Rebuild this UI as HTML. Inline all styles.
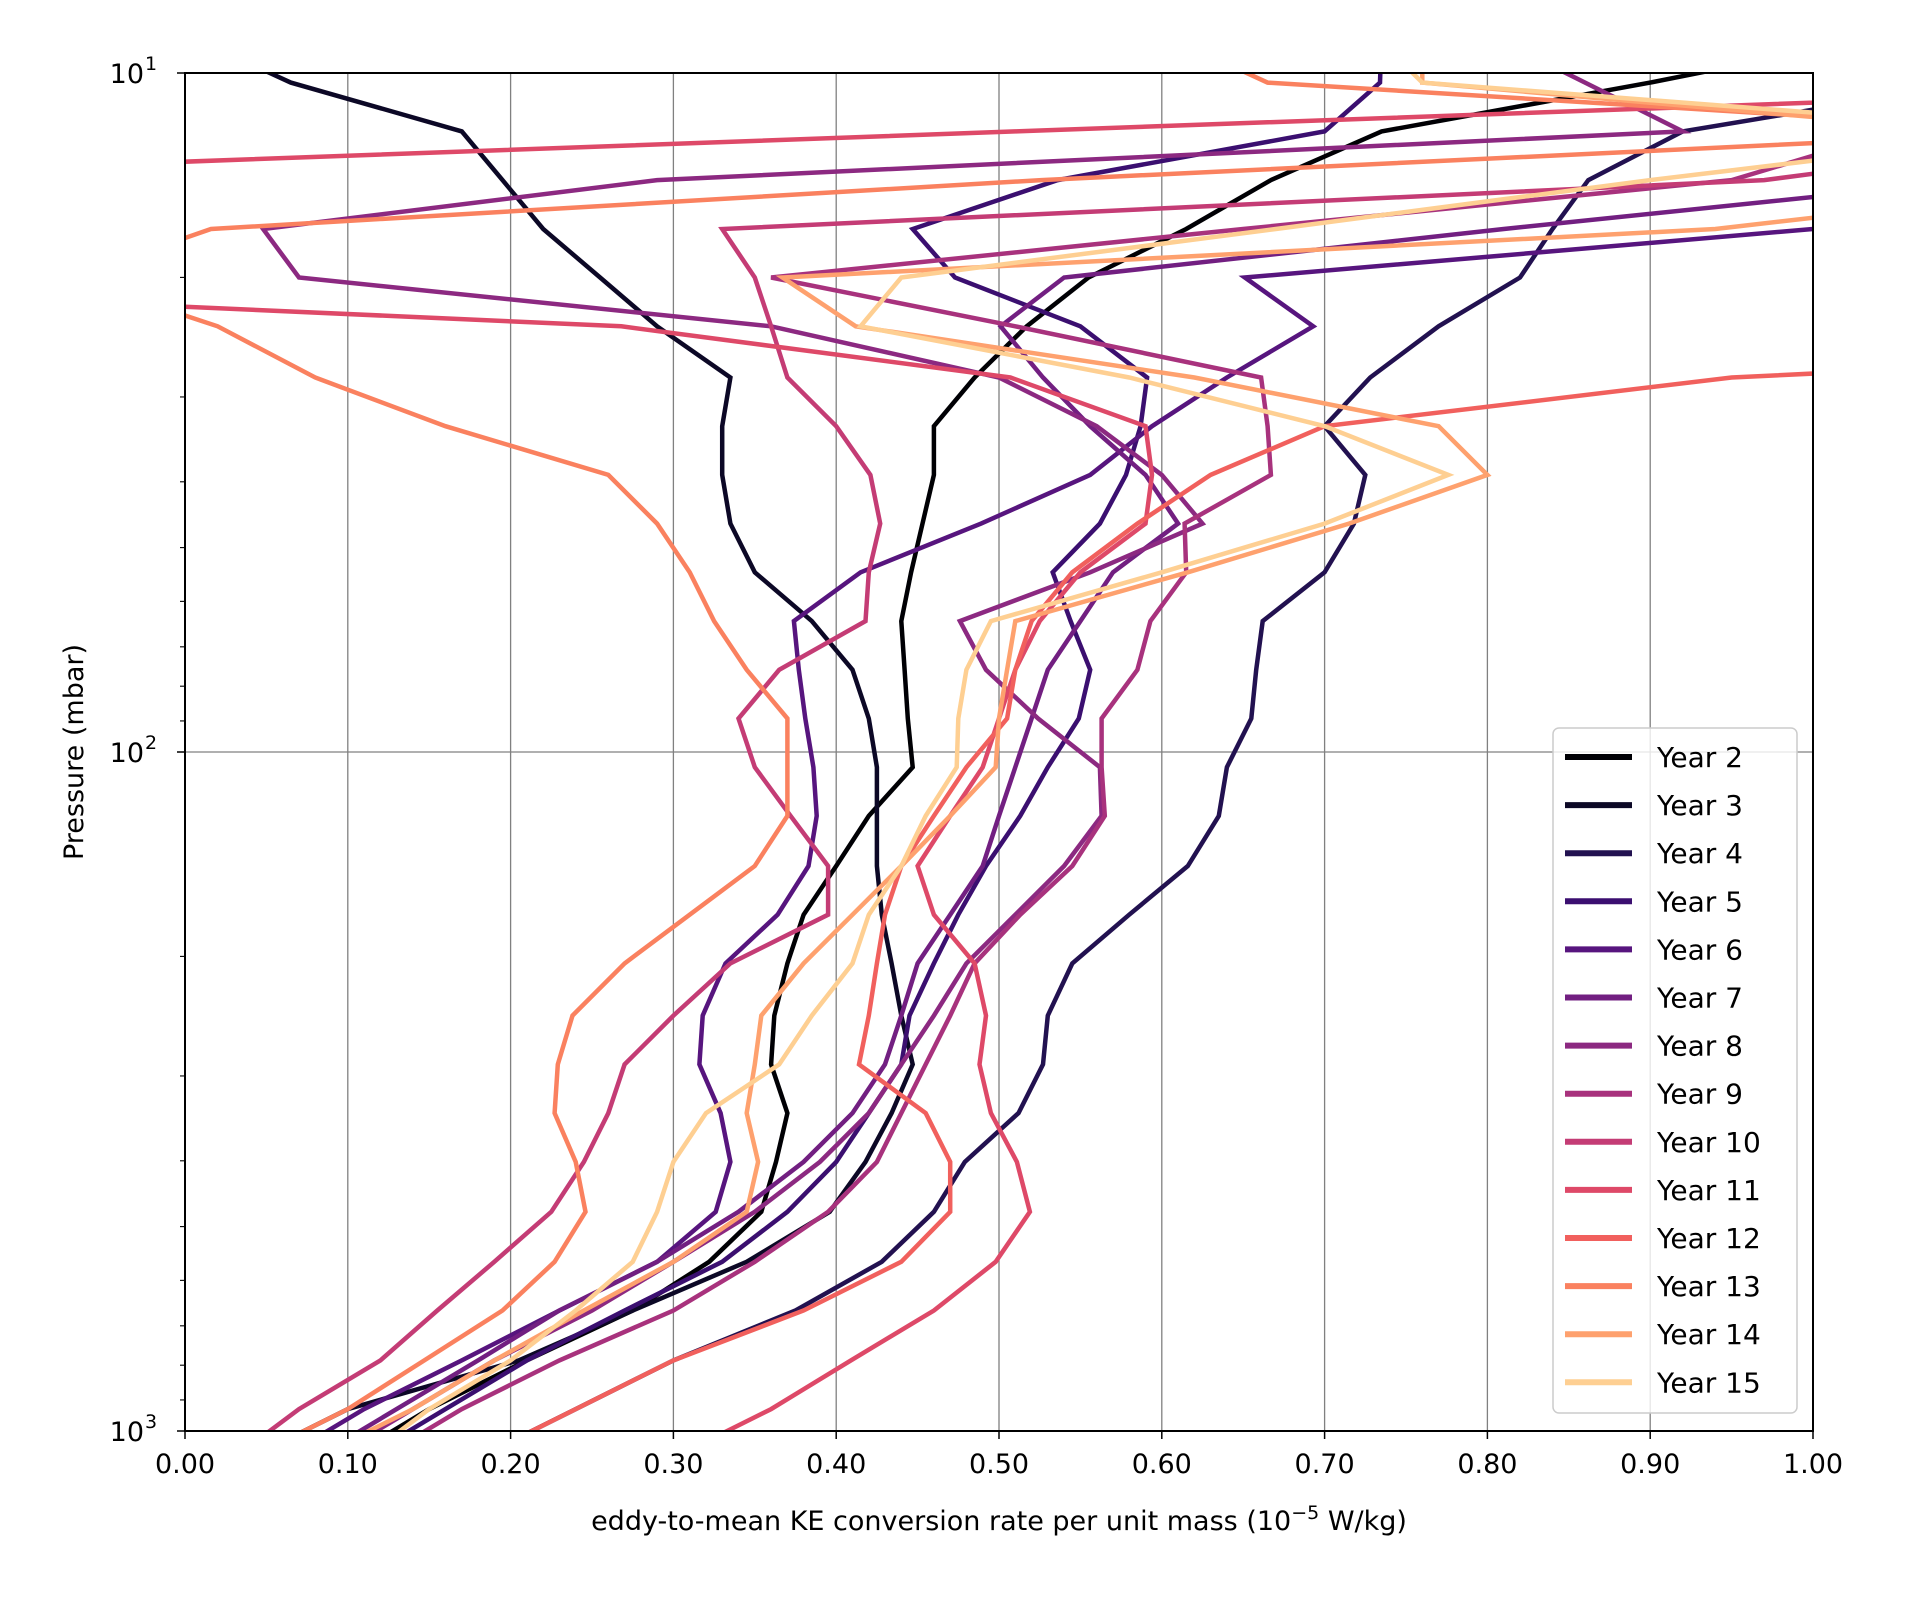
<!DOCTYPE html>
<html><head><meta charset="utf-8"><style>
html,body{margin:0;padding:0;background:#fff;}
svg{display:block;font-family:"DejaVu Sans","Liberation Sans",sans-serif;}
</style></head><body>
<svg id="chart" width="1911" height="1601" viewBox="0 0 1911 1601" xmlns="http://www.w3.org/2000/svg">
<defs><clipPath id="plotclip"><rect x="185" y="73" width="1628" height="1358"/></clipPath></defs>
<rect x="0" y="0" width="1911" height="1601" fill="#fff"/>
<g id="grid"></g>
<g id="series" clip-path="url(#plotclip)"></g>
<g id="axes"></g>
<g id="legend"></g>
<text x="999" y="1530" text-anchor="middle" font-size="27">eddy-to-mean KE conversion rate per unit mass (10<tspan dy="-11" font-size="19">−5</tspan><tspan dy="11"> W/kg)</tspan></text>
<text transform="translate(83,752) rotate(-90)" text-anchor="middle" font-size="27">Pressure (mbar)</text>
</svg>
<script>
const levels = [8.76,10.33,12.19,14.38,16.97,20.01,23.61,28.08,33.13,39.07,46.09,54.37,64.15,75.67,89.27,105.3,124.2,147.2,173.6,204.8,244.5,288.5,340.3,401.5,475.6,563.3,664.5,787.0,928.4,1095];
const seriesNames = ["Year 2","Year 3","Year 4","Year 5","Year 6","Year 7","Year 8","Year 9","Year 10","Year 11","Year 12","Year 13","Year 14","Year 15"];
const seriesColors = ["#000004","#0c0826","#221150","#3b0f70","#57157e","#721f81","#8c2981","#a8327d","#c43c75","#de4968","#f1605d","#fa815f","#fea16e","#fecf92"];
const year2 = [1.05,0.90,0.735,0.667,0.615,0.555,0.517,0.485,0.46,0.46,0.453,0.446,0.44,0.442,0.444,0.447,0.42,0.40,0.38,0.37,0.362,0.36,0.37,0.363,0.354,0.322,0.275,0.21,0.15,0.10];
const year3 = [0.0,0.065,0.17,0.195,0.22,0.255,0.29,0.335,0.33,0.33,0.335,0.35,0.385,0.41,0.42,0.425,0.425,0.425,0.428,0.434,0.44,0.447,0.434,0.418,0.396,0.345,0.275,0.205,0.10,0.04];
const year4 = [1.15,1.1,0.92,0.862,0.84,0.82,0.77,0.728,0.70,0.725,0.718,0.70,0.662,0.658,0.655,0.64,0.635,0.616,0.58,0.545,0.53,0.527,0.512,0.479,0.46,0.428,0.375,0.30,0.24,0.18];
const year5 = [0.735,0.734,0.70,0.536,0.447,0.473,0.55,0.591,0.587,0.578,0.562,0.533,0.544,0.556,0.549,0.53,0.513,0.492,0.475,0.46,0.445,0.44,0.42,0.40,0.37,0.33,0.27,0.21,0.16,0.11];
const year6 = [1.2,1.2,1.2,1.15,1.0,0.651,0.693,0.64,0.594,0.556,0.489,0.415,0.374,0.377,0.381,0.386,0.388,0.383,0.364,0.332,0.318,0.316,0.329,0.335,0.326,0.29,0.23,0.17,0.11,0.06];
const year7 = [1.2,1.2,1.2,1.1,0.81,0.54,0.501,0.527,0.556,0.59,0.61,0.57,0.55,0.53,0.52,0.51,0.50,0.49,0.47,0.45,0.44,0.43,0.41,0.38,0.34,0.29,0.23,0.18,0.13,0.08];
const year8 = [0.80,0.86,0.92,0.29,0.048,0.07,0.36,0.50,0.56,0.60,0.625,0.556,0.476,0.492,0.524,0.562,0.563,0.54,0.51,0.48,0.46,0.44,0.42,0.39,0.35,0.30,0.25,0.19,0.14,0.09];
const year9 = [1.1,1.1,1.05,0.95,0.65,0.36,0.51,0.661,0.665,0.667,0.614,0.615,0.593,0.585,0.563,0.563,0.565,0.545,0.513,0.485,0.47,0.455,0.44,0.425,0.395,0.35,0.30,0.23,0.17,0.12];
const year10 = [1.2,1.2,1.2,0.97,0.33,0.35,0.36,0.37,0.40,0.421,0.427,0.42,0.418,0.365,0.34,0.35,0.372,0.395,0.395,0.335,0.30,0.27,0.26,0.245,0.225,0.19,0.155,0.12,0.07,0.03];
const year11 = [1.4,1.34,0.51,-0.31,-0.45,-0.40,0.268,0.507,0.59,0.594,0.59,0.55,0.525,0.51,0.50,0.49,0.47,0.45,0.46,0.485,0.492,0.488,0.495,0.511,0.519,0.498,0.46,0.409,0.36,0.30];
const year12 = [1.6,1.6,1.6,1.6,1.6,1.6,1.6,0.95,0.70,0.63,0.585,0.545,0.52,0.51,0.505,0.48,0.46,0.44,0.43,0.425,0.42,0.414,0.455,0.47,0.47,0.44,0.38,0.30,0.24,0.18];
const year13 = [0.60,0.665,1.15,0.526,0.016,-0.07,0.02,0.08,0.16,0.26,0.29,0.31,0.325,0.345,0.37,0.37,0.37,0.35,0.31,0.27,0.238,0.229,0.227,0.24,0.246,0.227,0.195,0.147,0.10,0.04];
const year14 = [0.76,0.76,1.1,1.2,0.94,0.367,0.412,0.62,0.77,0.80,0.715,0.616,0.51,0.505,0.50,0.498,0.47,0.44,0.41,0.38,0.354,0.35,0.345,0.352,0.345,0.30,0.245,0.19,0.14,0.08];
const year15 = [0.73,0.76,1.15,0.90,0.67,0.44,0.415,0.58,0.70,0.776,0.70,0.60,0.495,0.48,0.475,0.474,0.455,0.44,0.42,0.41,0.385,0.365,0.32,0.30,0.29,0.275,0.24,0.20,0.15,0.11];
const xTicks = [0,0.1,0.2,0.3,0.4,0.5,0.6,0.7,0.8,0.9,1.0];
const xTickLabels = ["0.00","0.10","0.20","0.30","0.40","0.50","0.60","0.70","0.80","0.90","1.00"];
const yMajor = [10,100,1000];
const yMajorExp = ["1","2","3"];

const allSeries = [year2,year3,year4,year5,year6,year7,year8,year9,year10,year11,year12,year13,year14,year15];
const L=185,R=1813,T=73,B=1431;
function xs(v){return L+v*(R-L);}
function ys(p){return T+(Math.log10(p)-1)/2*(B-T);}
const NS="http://www.w3.org/2000/svg";
function mk(tag,attrs,parent){const e=document.createElementNS(NS,tag);for(const k in attrs)e.setAttribute(k,attrs[k]);parent.appendChild(e);return e;}
const grid=document.getElementById('grid'),axes=document.getElementById('axes'),ser=document.getElementById('series'),leg=document.getElementById('legend');
xTicks.forEach((t,i)=>{
  const g=mk('line',{x1:xs(t),x2:xs(t),y1:T,y2:B,stroke:'#808080','stroke-width':1.3},grid);
  
  
  const tk=mk('line',{x1:xs(t),x2:xs(t),y1:B,y2:B+8,stroke:'#000','stroke-width':1.5},axes);
  
  
  const tx=mk('text',{x:xs(t),y:B+42,'text-anchor':'middle','font-size':27},axes);
  tx.textContent=xTickLabels[i];
  
  
});
yMajor.forEach((p,i)=>{
  const g=mk('line',{x1:L,x2:R,y1:ys(p),y2:ys(p),stroke:'#808080','stroke-width':1.3},grid);
  
  
  const tk=mk('line',{x1:L-8,x2:L,y1:ys(p),y2:ys(p),stroke:'#000','stroke-width':1.5},axes);
  
  
  const tx=mk('text',{x:L-41,y:ys(p)+10,'text-anchor':'end','font-size':27},axes);
  tx.textContent='10';
  
  
  const sp=mk('text',{x:L-40,y:ys(p)-3,'text-anchor':'start','font-size':19},axes);
  sp.textContent=yMajorExp[i];
  
  
});
[10,100].forEach(d=>{for(let m=2;m<10;m++){const tk=mk('line',{x1:L-5,x2:L,y1:ys(d*m),y2:ys(d*m),stroke:'#000','stroke-width':1.1},axes);
  
  }});
const frame=mk('rect',{x:L,y:T,width:R-L,height:B-T,fill:'none',stroke:'#000','stroke-width':2},axes);


allSeries.forEach((vals,i)=>{
  const d=vals.map((v,j)=>(j?'L':'M')+xs(v).toFixed(1)+','+ys(levels[j]).toFixed(1)).join(' ');
  const pth=mk('path',{d:d,fill:'none',stroke:seriesColors[i],'stroke-width':4.5,'stroke-linejoin':'miter'},ser);
  
  
});
const box=mk('rect',{x:1553,y:728,width:244,height:685,rx:6,fill:'#fff','fill-opacity':0.8,stroke:'#cccccc','stroke-width':1.5},leg);


seriesNames.forEach((n,i)=>{
  const y=757+i*48.1;
  const ln=mk('line',{x1:1565,x2:1632,y1:y,y2:y,stroke:seriesColors[i],'stroke-width':6},leg);
  
  
  const tx=mk('text',{x:1657,y:y+10,'font-size':28},leg);
  tx.textContent=n;
  
  
});
</script>
</body></html>
